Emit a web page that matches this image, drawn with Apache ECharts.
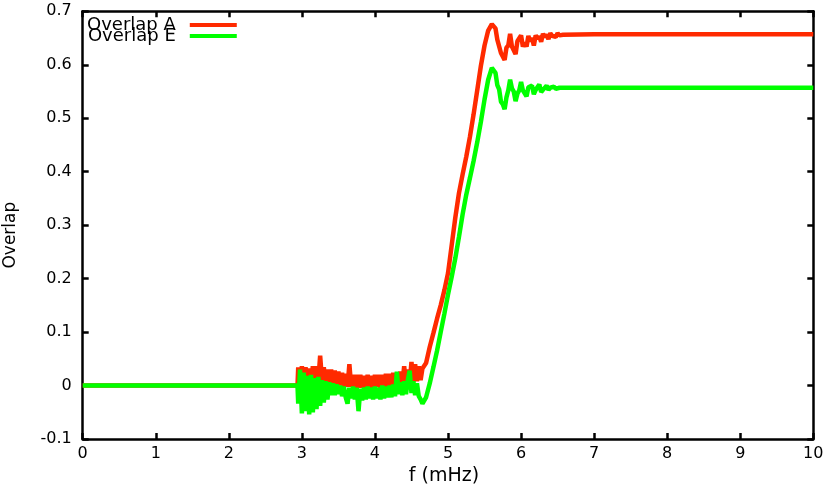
<!DOCTYPE html>
<html>
<head>
<meta charset="utf-8">
<script src="https://cdn.jsdelivr.net/npm/echarts@6/dist/echarts.min.js"></script>
<style>
html,body{margin:0;padding:0;background:#fff;}
#chart{width:830px;height:485px;}
</style>
</head>
<body>
<div id="chart"></div>
<script>
// Frequency samples (mHz)
const freq = [
  0, 1, 2, 2.94,
  2.95, 2.975, 3, 3.025, 3.05, 3.075, 3.1, 3.125, 3.15, 3.175,
  3.2, 3.225, 3.25, 3.275, 3.3, 3.325, 3.35, 3.375, 3.4, 3.425,
  3.45, 3.475, 3.5, 3.525, 3.55, 3.575, 3.6, 3.625, 3.65, 3.675,
  3.7, 3.725, 3.75, 3.775, 3.8, 3.825, 3.85, 3.875, 3.9, 3.925,
  3.95, 3.975, 4, 4.025, 4.05, 4.075, 4.1, 4.125, 4.15, 4.175,
  4.2, 4.225, 4.25, 4.275, 4.3, 4.325, 4.35, 4.375, 4.4, 4.425,
  4.45, 4.475, 4.5, 4.525, 4.55, 4.575, 4.6, 4.625, 4.65,
  4.675, 4.7, 4.75, 4.8, 4.85, 4.9, 4.95, 5, 5.05, 5.1,
  5.15, 5.2, 5.25, 5.3, 5.35, 5.4, 5.45, 5.5, 5.55, 5.6,
  5.625, 5.65, 5.675, 5.7, 5.725, 5.75, 5.775, 5.8, 5.825, 5.85,
  5.875, 5.9, 5.925, 5.95, 5.975, 6, 6.025, 6.05, 6.075, 6.1,
  6.125, 6.15, 6.175, 6.2, 6.225, 6.25, 6.275, 6.3, 6.325, 6.35,
  6.375, 6.4, 6.425, 6.45, 6.475, 6.5, 6.525, 6.55, 6.575, 6.6,
  7, 8, 9, 10
];

// Overlap A (red)
const overlapA = [
  0, 0, 0, 0,
  0.034, 0.004, 0.036, 0.002, 0.034, 0.004, 0.032, 0.002, 0.036, 0.006,
  0.036, 0.008, 0.056, 0.010, 0.034, 0.006, 0.030, 0.004, 0.030, 0.004,
  0.028, 0.002, 0.026, 0.000, 0.024, -0.002, 0.022, -0.002, 0.040, -0.002,
  0.020, -0.004, 0.020, -0.004, 0.020, -0.004, 0.018, -0.004, 0.020, -0.004,
  0.018, -0.004, 0.020, -0.002, 0.020, -0.004, 0.020, -0.002, 0.022, -0.002,
  0.022, 0.000, 0.024, 0.000, 0.024, 0.002, 0.026, 0.002, 0.036, 0.004,
  0.030, 0.004, 0.044, 0.006, 0.040, 0.008, 0.036, 0.010, 0.032,
  0.030, 0.042, 0.072, 0.098, 0.125, 0.150, 0.178, 0.210, 0.262, 0.314,
  0.360, 0.395, 0.428, 0.465, 0.507, 0.552, 0.598, 0.636, 0.664, 0.676,
  0.674, 0.668, 0.647, 0.646, 0.622, 0.623, 0.609, 0.632, 0.636, 0.658,
  0.634, 0.634, 0.620, 0.644, 0.642, 0.655, 0.634, 0.641, 0.634, 0.654,
  0.644, 0.650, 0.636, 0.655, 0.649, 0.653, 0.643, 0.658, 0.652, 0.656,
  0.648, 0.659, 0.654, 0.657, 0.652, 0.659, 0.655, 0.658, 0.656, 0.657,
  0.657, 0.657, 0.657, 0.657
];

// Overlap E (green)
const overlapE = [
  0, 0, 0, 0,
  -0.034, 0.030, -0.052, 0.024, -0.048, 0.018, -0.054, 0.020, -0.050, 0.014,
  -0.044, 0.016, -0.038, 0.010, -0.032, 0.008, -0.026, 0.006, -0.018, 0.004,
  -0.018, 0.002, -0.016, 0.000, -0.020, -0.002, -0.022, -0.034, -0.004, -0.024,
  -0.002, -0.026, -0.004, -0.048, -0.006, -0.028, -0.004, -0.026, -0.002, -0.024,
  -0.004, -0.026, -0.002, -0.024, -0.004, -0.026, 0.000, -0.024, -0.002, -0.022,
  0.000, -0.022, 0.002, -0.020, 0.026, -0.016, 0.006, -0.018, 0.008, -0.016,
  0.010, 0.028, -0.014, 0.008, -0.018, 0.004, -0.020, -0.026, -0.034,
  -0.036, -0.022, 0.004, 0.034, 0.065, 0.100, 0.134, 0.170, 0.203, 0.238,
  0.278, 0.320, 0.357, 0.388, 0.420, 0.455, 0.493, 0.535, 0.572, 0.594,
  0.596, 0.585, 0.562, 0.554, 0.531, 0.526, 0.517, 0.539, 0.552, 0.572,
  0.556, 0.550, 0.532, 0.546, 0.552, 0.568, 0.552, 0.550, 0.541, 0.558,
  0.558, 0.561, 0.545, 0.553, 0.556, 0.563, 0.549, 0.553, 0.555, 0.561,
  0.553, 0.557, 0.556, 0.559, 0.555, 0.557, 0.557, 0.557, 0.557, 0.557,
  0.557, 0.557, 0.557, 0.557
];

const seriesNames = ['Overlap A', 'Overlap E'];
const xTitle = 'f (mHz)';
const yTitle = 'Overlap';

const FONT = 'DejaVu Sans';
const pairs = (ys) => freq.map((x, i) => [x, ys[i]]);

const borderStyle = { color: '#000', width: 2.5 };
const tickStyle = { show: true, inside: true, length: 6, lineStyle: { color: '#000', width: 2.5 } };

const chart = echarts.init(document.getElementById('chart'), null, { renderer: 'canvas' });
chart.setOption({
  animation: false,
  backgroundColor: '#fff',
  grid: { left: 82.7, right: 16.7, top: 11.3, bottom: 46, containLabel: false, outerBoundsMode: 'none' },
  legend: {
    data: seriesNames,
    orient: 'vertical',
    left: 87,
    top: 16,
    align: 'right',
    icon: 'rect',
    itemWidth: 47,
    itemHeight: 4,
    itemGap: -7,
    itemTextGap: 5,
    padding: 0,
    selectedMode: false,
    textStyle: { fontFamily: FONT, fontSize: 18, color: '#000', padding: [0, 9, 0, 0] }
  },
  xAxis: [
    {
      type: 'value', min: 0, max: 10, interval: 1, position: 'bottom',
      axisLine: { show: true, onZero: false, lineStyle: borderStyle },
      axisTick: tickStyle,
      splitLine: { show: false },
      axisLabel: { margin: 7, fontFamily: FONT, fontSize: 16, color: '#000' },
      name: xTitle, nameLocation: 'middle', nameGap: 25,
      nameTextStyle: { fontFamily: FONT, fontSize: 19, color: '#000', padding: [0, 8, 0, 0] }
    },
    {
      type: 'value', min: 0, max: 10, interval: 1, position: 'top',
      axisLine: { show: true, onZero: false, lineStyle: borderStyle },
      axisTick: tickStyle,
      splitLine: { show: false },
      axisLabel: { show: false }
    }
  ],
  yAxis: [
    {
      type: 'value', min: -0.1, max: 0.7, interval: 0.1, position: 'left',
      axisLine: { show: true, onZero: false, lineStyle: borderStyle },
      axisTick: tickStyle,
      splitLine: { show: false },
      axisLabel: { margin: 11, fontFamily: FONT, fontSize: 16, color: '#000' },
      name: yTitle, nameLocation: 'middle', nameGap: 64, nameRotate: 90,
      nameTextStyle: { fontFamily: FONT, fontSize: 17, color: '#000', padding: [0, 20, 0, 0] }
    },
    {
      type: 'value', min: -0.1, max: 0.7, interval: 0.1, position: 'right',
      axisLine: { show: true, onZero: false, lineStyle: borderStyle },
      axisTick: tickStyle,
      splitLine: { show: false },
      axisLabel: { show: false }
    }
  ],
  series: [
    {
      name: seriesNames[0], type: 'line', xAxisIndex: 0, yAxisIndex: 0,
      data: pairs(overlapA), showSymbol: false, symbol: 'none',
      itemStyle: { color: '#ff2a00' },
      lineStyle: { color: '#ff2a00', width: 4.5 }
    },
    {
      name: seriesNames[1], type: 'line', xAxisIndex: 0, yAxisIndex: 0,
      data: pairs(overlapE), showSymbol: false, symbol: 'none',
      itemStyle: { color: '#00ff00' },
      lineStyle: { color: '#00ff00', width: 4.5 }
    }
  ]
});
</script>
</body>
</html>
